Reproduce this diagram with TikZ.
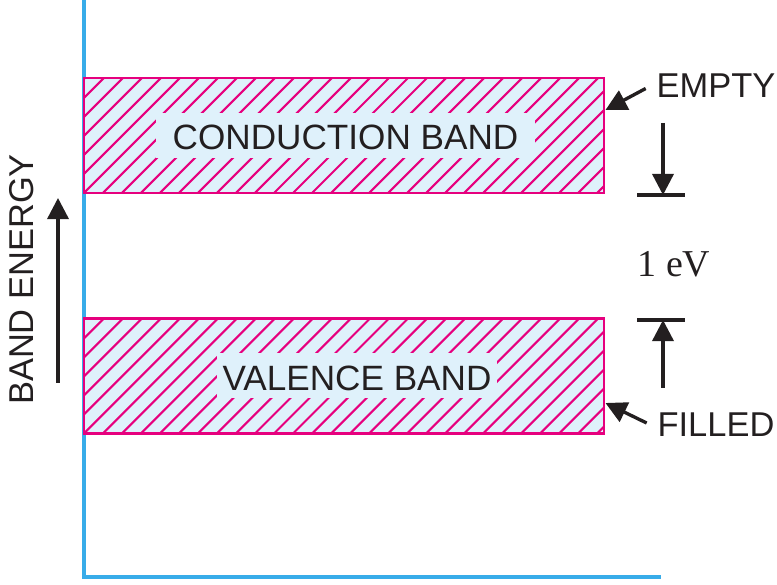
\documentclass[tikz,border=0pt]{standalone}
\usepackage{fontspec}
\setmainfont{Liberation Sans}
\newfontfamily\evfont{Liberation Serif}
\usetikzlibrary{positioning,calc,arrows.meta}
\definecolor{bandpink}{HTML}{E6007E}
\definecolor{bandfill}{HTML}{DFF1FB}
\definecolor{axisblue}{HTML}{38ACE9}
\definecolor{ink}{HTML}{231F20}

\tikzset{
  band/.style={draw=bandpink, line width=2pt, fill=bandfill,
    minimum width=13cm, minimum height=2.875cm, inner sep=0pt,
    path picture={
      \foreach \k in {-8,...,30}
        \draw[bandpink, line width=1.5pt]
          ([xshift=\k*0.475cm]path picture bounding box.south west) -- ++(3cm,3cm);
    }},
  bandlabel/.style={fill=bandfill, text=ink, inner ysep=6pt,
    text height=20pt, text depth=0pt,
    font=\fontsize{25}{28}\selectfont},
  tag/.style={text=ink, font=\fontsize{24.5}{28}\selectfont},
  pointer/.style={draw=ink, line width=2.4pt,
    -{Triangle[length=15pt,width=15pt]}},
  gapbar/.style={draw=ink, line width=2.4pt},
  axis/.style={draw=axisblue, line width=2.2pt}
}

\begin{document}
\begin{tikzpicture}[x=0.025cm,y=0.025cm]
\useasboundingbox (0,0) rectangle (777,585);

% axes
\coordinate (ytop) at (84,585);
\coordinate (origin) at (84,8);
\coordinate (xend) at (661,8);
\draw[axis] (ytop) -- (origin) -- (xend);

% the two bands
\node[band] (cb) at (344,449.5) {};
\node[band] (vb) at (344,209) {};
\node[bandlabel, inner xsep=12pt] (cb-text) at (345.5,449.5) {CONDUCTION BAND};
\node[bandlabel, inner xsep=4pt] (vb-text) at (357,209) {VALENCE BAND};

% side tags
\node[tag] (empty) at (716,499.5) {EMPTY};
\node[tag] (filled) at (716,160) {FILLED};
\draw[pointer] ($(empty.west)+(-6,-3)$) -- ($(cb.east)+(0,25.5)$);
\draw[pointer] ($(filled.west)+(-6,2)$) -- ($(vb.east)+(0,-27)$);

% band gap
\coordinate (gaptop) at (663,390);
\coordinate (gapbot) at (663,265);
\coordinate (gaptop-from) at (663,462);
\coordinate (gapbot-from) at (663,197);
\draw[gapbar] ($(gaptop)+(-26,0)$) -- ($(gaptop)+(22,0)$);
\draw[gapbar] ($(gapbot)+(-26,0)$) -- ($(gapbot)+(22,0)$);
\draw[pointer] (gaptop-from) -- (gaptop);
\draw[pointer] (gapbot-from) -- (gapbot);
\node[text=ink, font=\evfont\fontsize{27}{30}\selectfont] (gap) at (674,321) {1 eV};

% energy axis label
\node[tag, rotate=90] (energy) at (22,305.5) {BAND ENERGY};
\coordinate (energy-from) at (58,202);
\coordinate (energy-to) at (58,387);
\draw[pointer] (energy-from) -- (energy-to);
\end{tikzpicture}
\end{document}
